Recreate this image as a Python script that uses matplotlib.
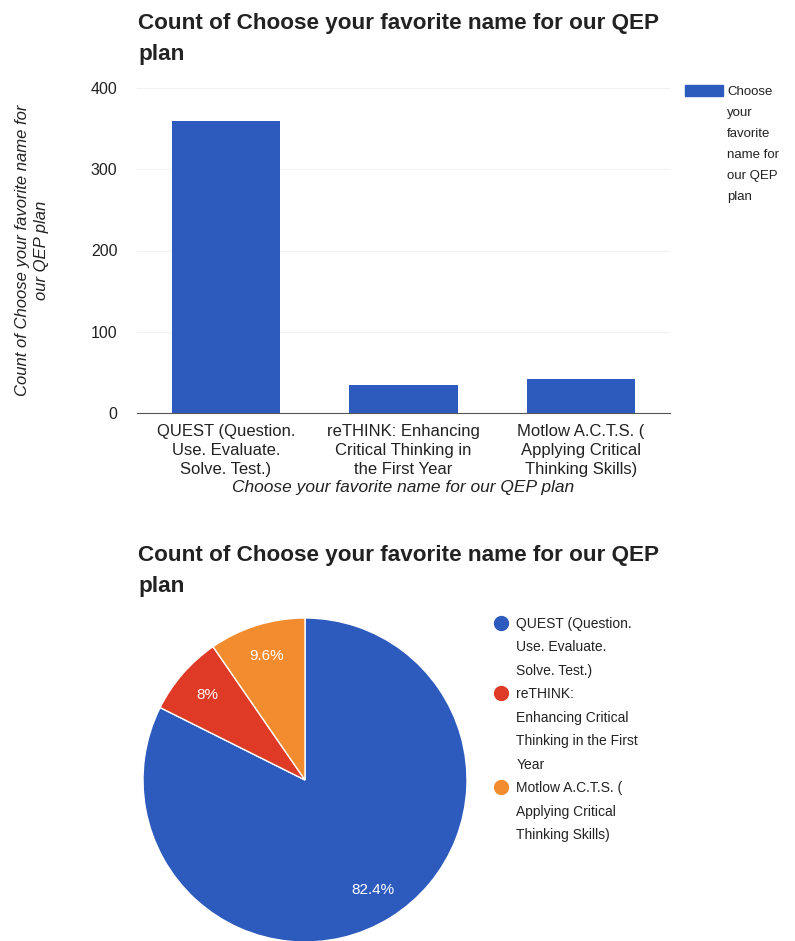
import matplotlib.pyplot as plt
from matplotlib.patches import Patch
from matplotlib.lines import Line2D

plt.rcParams['font.family'] = ['Liberation Sans', 'DejaVu Sans']

# data
categories = ["QUEST (Question.\nUse. Evaluate.\nSolve. Test.)",
              "reTHINK: Enhancing\nCritical Thinking in\nthe First Year",
              "Motlow A.C.T.S. (\nApplying Critical\nThinking Skills)"]
legend_names = ["QUEST (Question.\nUse. Evaluate.\nSolve. Test.)",
                "reTHINK:\nEnhancing Critical\nThinking in the First\nYear",
                "Motlow A.C.T.S. (\nApplying Critical\nThinking Skills)"]
counts = [360, 35, 42]
y_ticks = [0, 100, 200, 300, 400]
colors = ["#2d5bbd", "#df3a26", "#f28c2e"]

title = "Count of Choose your favorite name for our QEP\nplan"
series_name = "Choose\nyour\nfavorite\nname for\nour QEP\nplan"
text_col = '#222222'

fig = plt.figure(figsize=(7.95, 9.41), dpi=100)

# ---- bar chart
ax = fig.add_axes([137 / 795, 1 - 413 / 941, 533 / 795, 325 / 941])
x = range(len(categories))
ax.bar(x, counts, width=0.61, color=colors[0], zorder=2)
ax.set_xlim(-0.5, 2.5)
ax.set_ylim(0, 400)
ax.set_yticks(y_ticks)
ax.set_xticks(list(x))
ax.set_xticklabels(categories, fontsize=12, linespacing=1.32)
ax.tick_params(axis='both', length=0, colors=text_col)
ax.tick_params(axis='y', labelsize=11.5, pad=14)
ax.tick_params(axis='x', pad=8)
ax.grid(axis='y', color='#f2f2f2', linewidth=0.8, zorder=0)
for s in ['top', 'right', 'left']:
    ax.spines[s].set_visible(False)
ax.spines['bottom'].set_color('#555555')
ax.set_xlabel("Choose your favorite name for our QEP plan", fontstyle='italic',
              fontsize=12.5, labelpad=2, color=text_col)
ax.set_ylabel("Count of Choose your favorite name for\nour QEP plan", fontstyle='italic',
              fontsize=12, color=text_col, linespacing=1.35, va='center', ha='center')
ax.yaxis.set_label_coords((32 - 137) / 533, 0.5)
fig.text(138 / 795, 1 - 13 / 941, title, fontsize=16.2, fontweight='bold',
         va='top', ha='left', color=text_col, linespacing=1.6)

# legend: one entry per text line so the swatch sits on the first line
bar_lines = series_name.split('\n')
bar_handles = [Patch(color=colors[0])] + [Patch(alpha=0) for _ in bar_lines[1:]]
leg = ax.legend(handles=bar_handles, labels=bar_lines,
                loc='upper left', bbox_to_anchor=(685 / 795, 1 - 85 / 941),
                bbox_transform=fig.transFigure, frameon=False, fontsize=9.5,
                handlelength=2.9, handleheight=0.85, handletextpad=0.3,
                borderaxespad=0, borderpad=0, labelspacing=0.62)
for t in leg.get_texts():
    t.set_color(text_col)

# ---- pie chart
pax = fig.add_axes([143 / 795, 1 - 942 / 941, 324 / 795, 324 / 941])


def pct_fmt(p):
    return ("%.1f" % p).rstrip('0').rstrip('.') + '%'


wedges, texts, autotexts = pax.pie(counts, colors=colors, startangle=90, counterclock=False,
                                   autopct=pct_fmt, pctdistance=0.8,
                                   wedgeprops=dict(edgecolor='white', linewidth=1))
for t in autotexts:
    t.set_color('white')
    t.set_fontsize(11)
pax.set_xlim(-1, 1)
pax.set_ylim(-1, 1)
pax.set_aspect('equal')

fig.text(138 / 795, 1 - 545 / 941, title, fontsize=16.2, fontweight='bold',
         va='top', ha='left', color=text_col, linespacing=1.6)

pie_lines, pie_handles = [], []
for name, c in zip(legend_names, colors):
    for i, line in enumerate(name.split('\n')):
        pie_lines.append(line)
        if i == 0:
            pie_handles.append(Line2D([], [], marker='o', linestyle='', markersize=10, color=c))
        else:
            pie_handles.append(Line2D([], [], linestyle='', marker=''))
pleg = pax.legend(handles=pie_handles, labels=pie_lines, loc='upper left',
                  bbox_to_anchor=(494 / 795, 1 - 617 / 941), bbox_transform=fig.transFigure,
                  frameon=False, fontsize=10, handlelength=1.0, handletextpad=0.6,
                  borderaxespad=0, borderpad=0, labelspacing=0.68)
for t in pleg.get_texts():
    t.set_color(text_col)

fig.savefig("out.png", dpi=100)
